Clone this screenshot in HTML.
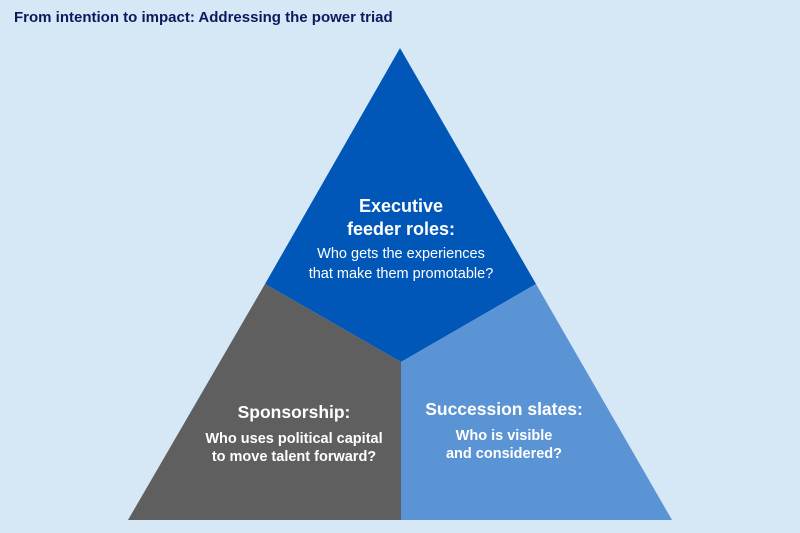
<!DOCTYPE html>
<html><head><meta charset="utf-8"><style>
html,body{margin:0;padding:0;background:#d6e8f6;}
svg{display:block;}
text{font-family:"Liberation Sans",sans-serif;fill:#fff;text-anchor:middle;}
</style></head><body>
<svg width="800" height="533" viewBox="0 0 800 533" xmlns="http://www.w3.org/2000/svg">
<rect width="800" height="533" fill="#d6e8f6"/>
<text x="14" y="22" style="fill:#0b1a5e;text-anchor:start;font-weight:bold;font-size:15px;">From intention to impact: Addressing the power triad</text>
<polygon points="400,48 536,284 401,362 265,284" fill="#0057b8"/>
<polygon points="265,284 401,362 401,520 128,520" fill="#5f5f5f"/>
<polygon points="536,284 672,520 401,520 401,362" fill="#5b94d4"/>
<text x="401" y="212" font-size="18" font-weight="bold">Executive</text>
<text x="401" y="235" font-size="18" font-weight="bold">feeder roles:</text>
<text x="401" y="258" font-size="14.5">Who gets the experiences</text>
<text x="401" y="278" font-size="14.5">that make them promotable?</text>
<text x="294" y="418" font-size="17.5" font-weight="bold">Sponsorship:</text>
<text x="294" y="443" font-size="14.5" font-weight="bold">Who uses political capital</text>
<text x="294" y="461" font-size="14.5" font-weight="bold">to move talent forward?</text>
<text x="504" y="415" font-size="17.5" font-weight="bold">Succession slates:</text>
<text x="504" y="440" font-size="14.5" font-weight="bold">Who is visible</text>
<text x="504" y="458" font-size="14.5" font-weight="bold">and considered?</text>
</svg>
</body></html>
